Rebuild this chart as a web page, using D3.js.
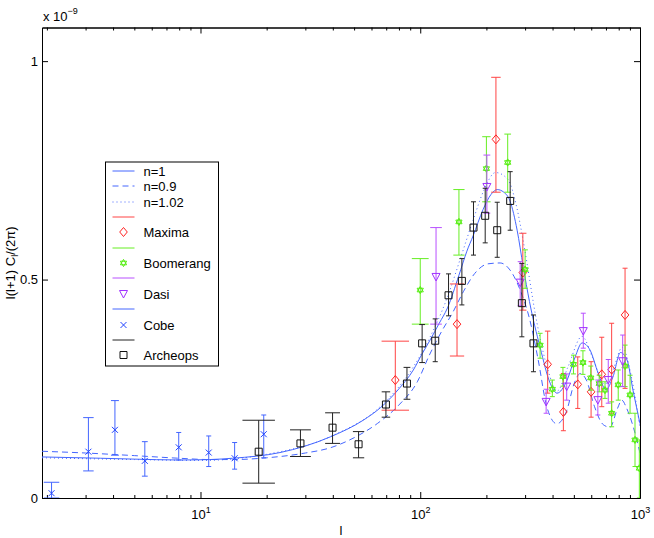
<!DOCTYPE html>
<html>
<head>
<meta charset="utf-8">
<script src="https://cdn.jsdelivr.net/npm/d3@7"></script>
<style>
    body { margin: 0; background: #fff; }
    text { font-family: "Liberation Sans", Arial, sans-serif; }
</style>
</head>
<body>
<div id="chart"></div>
<script>
// values are in units of 1e-9, l on a log axis
// theory curves: [l, value]
const curveN1 = [[1.9,0.094],[3.5,0.091],[5,0.089],[8,0.087],[11,0.088],[14,0.091],[23,0.104],[39,0.14],[55,0.178],[66,0.207],[80,0.25],[93,0.293],[102,0.33],[111,0.362],[122,0.40],[133,0.435],[150,0.51],[163,0.565],[174,0.6],[193,0.66],[210,0.695],[224,0.706],[240,0.70],[256,0.68],[276,0.613],[294,0.53],[314,0.45],[351,0.345],[390,0.263],[419,0.24],[466,0.27],[507,0.323],[545,0.355],[592,0.339],[645,0.286],[700,0.248],[753,0.277],[815,0.333],[873,0.316],[929,0.247],[1000,0.17]];
const curveN09 = [[1.9,0.107],[3,0.103],[5,0.097],[8,0.091],[11,0.088],[14,0.088],[20,0.092],[30,0.103],[39,0.115],[50,0.138],[64,0.171],[80,0.213],[97,0.266],[110,0.327],[125,0.381],[141,0.426],[157,0.472],[177,0.514],[203,0.536],[231,0.538],[256,0.522],[285,0.476],[314,0.411],[343,0.32],[377,0.208],[418,0.17],[464,0.2],[500,0.26],[535,0.285],[570,0.27],[620,0.21],[680,0.168],[730,0.162],[790,0.205],[826,0.224],[870,0.205],[933,0.162],[1000,0.103]];
const curveN102 = [[1.9,0.092],[5,0.088],[10,0.086],[20,0.10],[40,0.143],[66,0.21],[93,0.3],[110,0.365],[133,0.46],[155,0.56],[175,0.64],[195,0.705],[220,0.745],[250,0.73],[275,0.665],[295,0.585],[340,0.40],[380,0.295],[420,0.245],[470,0.3],[545,0.37],[610,0.32],[690,0.26],[750,0.29],[830,0.345],[920,0.27],[1000,0.16]];

// experiments: [l, value, low, high]
const maxima = [[77,0.27,0.201,0.359],[147,0.398,0.325,0.49],[221,0.821,0.70,0.963],[293,0.516,0.43,0.606],[380,0.306,0.24,0.382],[448,0.197,0.154,0.285],[521,0.26,0.205,0.323],[599,0.243,0.185,0.312],[670,0.283,0.209,0.368],[743,0.294,0.194,0.40],[855,0.419,0.251,0.526]];
const boomerang = [[100,0.476,0.398,0.548],[150,0.632,0.556,0.706],[200,0.754,0.678,0.827],[250,0.768,0.70,0.833],[300,0.523,0.48,0.568],[351,0.35,0.32,0.377],[399,0.249,0.232,0.27],[446,0.278,0.256,0.299],[498,0.306,0.284,0.327],[550,0.31,0.283,0.337],[597,0.275,0.247,0.302],[652,0.262,0.243,0.281],[693,0.247,0.228,0.266],[743,0.194,0.163,0.22],[796,0.259,0.224,0.293],[855,0.302,0.255,0.35],[901,0.236,0.194,0.281],[949,0.133,0.072,0.194],[993,0.068,0.0,0.133]];
const dasi = [[118,0.506,0.398,0.619],[201,0.712,0.652,0.785],[285,0.493,0.44,0.541],[374,0.22,0.194,0.249],[464,0.255,0.224,0.284],[552,0.382,0.343,0.423],[643,0.224,0.19,0.27],[717,0.27,0.217,0.317],[834,0.313,0.255,0.373]];
const cobe = [[2.1,0.011,0.0,0.036],[3.09,0.106,0.062,0.184],[4.08,0.156,0.098,0.223],[5.58,0.085,0.05,0.129],[7.96,0.116,0.087,0.150],[10.9,0.104,0.072,0.142],[14.3,0.091,0.066,0.127],[19.4,0.146,0.092,0.19]];
const archeops = [[18.4,0.106,0.034,0.178],[28.5,0.125,0.095,0.156],[39.9,0.161,0.125,0.195],[52.4,0.123,0.092,0.152],[69.8,0.214,0.185,0.243],[87,0.262,0.226,0.299],[102,0.354,0.31,0.397],[117,0.36,0.312,0.41],[134.5,0.464,0.417,0.513],[154.7,0.497,0.442,0.548],[174.7,0.619,0.556,0.678],[197.5,0.646,0.584,0.709],[224,0.613,0.551,0.677],[256.6,0.68,0.613,0.747],[290,0.446,0.369,0.537],[327.5,0.354,0.289,0.419]];

const yTicks = [0, 0.5, 1];
const yTickLabels = ["0", "0.5", "1"];
const xMajor = [10, 100, 1000];

const BLUE = "#4466ff";

// marker shapes centred on 0,0
function hexagram(r) {
    let up = [-90, 30, 150].map(a => [r * Math.cos(a * Math.PI / 180), r * Math.sin(a * Math.PI / 180)]);
    let dn = [90, 210, 330].map(a => [r * Math.cos(a * Math.PI / 180), r * Math.sin(a * Math.PI / 180)]);
    return "M" + up.join("L") + "Z M" + dn.join("L") + "Z";
}
const markers = {
    diamond: "M0,-4.5L3.8,0L0,4.5L-3.8,0Z",
    square: "M-3.5,-3.5h7v7h-7Z",
    triangle: "M-4,-3.5L4,-3.5L0,4Z",
    cross: "M-3,-3L3,3M-3,3L3,-3",
    hexagram: hexagram(3.6)
};

const series = [
    { name: "Maxima", data: maxima, color: "#ff2222", bar: "#ff4444", marker: "diamond", tee: 11 },
    { name: "Boomerang", data: boomerang, color: "#55ee11", bar: "#66ee22", marker: "hexagram", tee: 8.8 },
    { name: "Dasi", data: dasi, color: "#a030ff", bar: "#b850ff", marker: "triangle", tee: 7.2 },
    { name: "Cobe", data: cobe, color: "#2244ff", bar: "#4466ff", marker: "cross", tee: 0.17 },
    { name: "Archeops", data: archeops, color: "#111", bar: "#222", marker: "square", tee: 3.1 }
];

const curves = [
    { name: "n=1", data: curveN1, dash: null },
    { name: "n=0.9", data: curveN09, dash: "6,4" },
    { name: "n=1.02", data: curveN102, dash: "1,3" }
];

let margin = { top: 27.5, right: 14, bottom: 40, left: 42 };
let width = 654 - margin.left - margin.right,
    height = 538 - margin.top - margin.bottom;

let svg = d3.select("#chart").append("svg")
    .attr("width", 654)
    .attr("height", 538)
    .append("g")
    .attr("transform", "translate(" + margin.left + "," + margin.top + ")");

let x = d3.scaleLog().domain([1.9, 1000]).range([0, width]);
let y = d3.scaleLinear().domain([0, 1.077]).range([height, 0]);

svg.append("clipPath").attr("id", "clip")
    .append("rect").attr("width", width).attr("height", height);

// minor log ticks
let xMinor = x.ticks().filter(d => xMajor.indexOf(d) < 0);

function styleAxis(g) {
    g.selectAll("path, line").attr("stroke", "#000");
    g.selectAll("text").attr("fill", "#000").style("font-size", "13px")
        .style("font-family", "'Liberation Sans', Arial, sans-serif");
}

// bottom
svg.append("g").attr("transform", "translate(0," + height + ")")
    .call(d3.axisBottom(x).tickValues(xMinor).tickSizeInner(-3).tickSizeOuter(0).tickFormat(""))
    .call(styleAxis);
let xAx = svg.append("g").attr("transform", "translate(0," + height + ")")
    .call(d3.axisBottom(x).tickValues(xMajor).tickSizeInner(-6).tickSizeOuter(0).tickPadding(12))
    .call(styleAxis);
xAx.selectAll(".tick text").each(function(d) {
    let t = d3.select(this);
    t.text(null).attr("dy", null).attr("y", 21);
    t.append("tspan").text("10");
    t.append("tspan").attr("dy", "-6").style("font-size", "9px").text(Math.round(Math.log10(d)));
});
// top
svg.append("g")
    .call(d3.axisTop(x).tickValues(xMinor).tickSizeInner(-3).tickSizeOuter(0).tickFormat(""))
    .call(styleAxis);
svg.append("g")
    .call(d3.axisTop(x).tickValues(xMajor).tickSizeInner(-6).tickSizeOuter(0).tickFormat(""))
    .call(styleAxis);
// left
svg.append("g")
    .call(d3.axisLeft(y).tickValues(yTicks).tickSizeInner(-6).tickSizeOuter(0).tickPadding(4)
        .tickFormat((d, i) => yTickLabels[i]))
    .call(styleAxis);
// right
svg.append("g").attr("transform", "translate(" + width + ",0)")
    .call(d3.axisRight(y).tickValues(yTicks).tickSizeInner(-6).tickSizeOuter(0).tickFormat(""))
    .call(styleAxis);

// theory curves
let line = d3.line()
    .x(d => x(d[0]))
    .y(d => y(d[1]))
    .curve(d3.curveMonotoneX);

let plot = svg.append("g").attr("clip-path", "url(#clip)");

curves.forEach(c => {
    plot.append("path")
        .datum(c.data)
        .attr("d", line)
        .attr("fill", "none")
        .attr("stroke", BLUE)
        .attr("stroke-width", 1)
        .attr("stroke-dasharray", c.dash);
});

// error bars + markers
series.forEach(s => {
    let g = plot.append("g").attr("class", "series-" + s.name);
    let half = d => Math.max(2.5, (x(d[0] + s.tee) - x(Math.max(d[0] - s.tee, 0.01))) / 2);

    g.selectAll(".bar")
        .data(s.data)
        .enter()
        .append("path")
        .attr("class", "bar")
        .attr("d", d => {
            let cx = x(d[0]), h = half(d), lo = y(d[2]), hi = y(d[3]);
            return "M" + cx + "," + lo + "V" + hi +
                "M" + (cx - h) + "," + hi + "H" + (cx + h) +
                "M" + (cx - h) + "," + lo + "H" + (cx + h);
        })
        .attr("fill", "none")
        .attr("stroke", s.bar)
        .attr("stroke-width", 1);

    g.selectAll(".mark")
        .data(s.data)
        .enter()
        .append("path")
        .attr("class", "mark")
        .attr("transform", d => "translate(" + x(d[0]) + "," + y(d[1]) + ")")
        .attr("d", markers[s.marker])
        .attr("fill", "none")
        .attr("stroke", s.color)
        .attr("stroke-width", 1);
});

// legend
let legend = svg.append("g").attr("transform", "translate(" + (105.5 - margin.left) + "," + (162 - margin.top) + ")");
legend.append("rect")
    .attr("width", 113).attr("height", 204)
    .attr("fill", "#fff").attr("stroke", "#000").attr("stroke-width", 1);

let rows = [];
curves.forEach(c => rows.push({ type: "line", color: BLUE, dash: c.dash, label: c.name }));
series.forEach(s => {
    rows.push({ type: "line", color: s.bar, dash: null, label: "" });
    rows.push({ type: "marker", color: s.color, marker: s.marker, label: s.name });
});

rows.forEach((r, i) => {
    let ry = Math.round(9 + i * 15.35);
    if (r.type === "line") {
        legend.append("line")
            .attr("x1", 7).attr("x2", 29).attr("y1", ry).attr("y2", ry)
            .attr("stroke", r.color).attr("stroke-width", 1)
            .attr("stroke-dasharray", r.dash);
    } else {
        legend.append("path")
            .attr("transform", "translate(18," + ry + ")")
            .attr("d", markers[r.marker])
            .attr("fill", "none").attr("stroke", r.color);
    }
    legend.append("text")
        .attr("x", 38).attr("y", ry + 4.5)
        .style("font-size", "13px")
        .text(r.label);
});

// axis labels
svg.append("text")
    .attr("x", width / 2).attr("y", height + 37)
    .attr("text-anchor", "middle")
    .style("font-size", "13px")
    .text("l");

let yl = svg.append("text")
    .attr("transform", "translate(" + (15 - margin.left) + "," + (height / 2) + ") rotate(-90)")
    .attr("text-anchor", "middle")
    .style("font-size", "13px");
yl.append("tspan").text("l(l+1) C");
yl.append("tspan").attr("dy", 3).style("font-size", "9px").text("l");
yl.append("tspan").attr("dy", -3).text("/(2π)");

let mult = svg.append("text")
    .attr("x", 1).attr("y", 21 - margin.top)
    .style("font-size", "13px");
mult.append("tspan").text("x 10");
mult.append("tspan").attr("dy", -7).style("font-size", "9px").text("−9");
</script>
</body>
</html>
